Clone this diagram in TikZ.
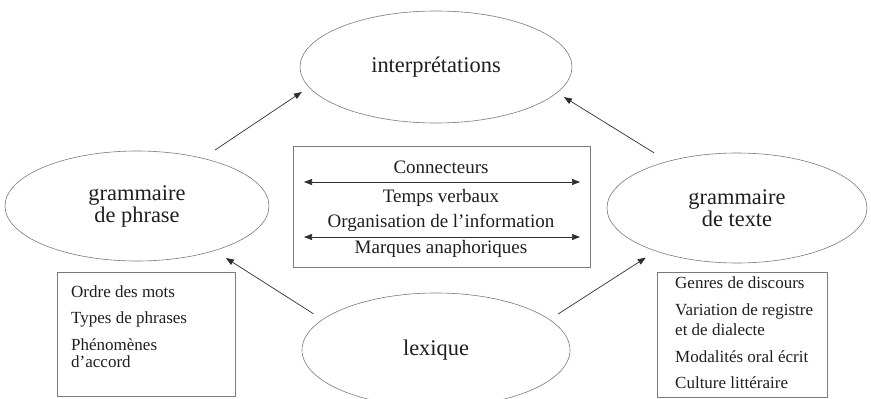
\documentclass[tikz,border=0pt]{standalone}
\usepackage{fontspec}
\setmainfont{Liberation Serif}
\usetikzlibrary{shapes.geometric,arrows.meta}
\definecolor{edge}{HTML}{7A7A7A}
\definecolor{ink}{HTML}{1E1E1E}
\definecolor{arrowc}{HTML}{2E2E2E}
\begin{document}
\begin{tikzpicture}[x=1pt,y=-1pt,
  bubble/.style={ellipse, draw=edge, line width=0.6pt, inner sep=0pt, outer sep=0pt,
    align=center, text=ink, font=\fontsize{22.4}{22}\selectfont},
  panel/.style={rectangle, draw=edge, line width=0.6pt, inner sep=0pt, outer sep=0pt},
  midtext/.style={anchor=base, inner sep=0pt, text=ink, font=\fontsize{19}{22}\selectfont},
  sidetext/.style={anchor=base west, inner sep=0pt, text=ink, font=\fontsize{17}{19}\selectfont},
  link/.style={draw=arrowc, line width=0.7pt, -{Triangle[length=8pt,width=6pt]}},
  twoway/.style={draw=arrowc, line width=0.7pt, {Triangle[length=8pt,width=6pt]}-{Triangle[length=8pt,width=6pt]}}
]
\useasboundingbox (0,0) rectangle (871,399);

% the four concepts
\node[bubble, minimum width=272pt, minimum height=112pt] (int) at (436,67) {interprétations};
\node[bubble, minimum width=264pt, minimum height=110pt] (gp) at (137,206) {grammaire\\de phrase};
\node[bubble, minimum width=260pt, minimum height=110pt] (tx) at (737,208) {grammaire\\de texte};
\node[bubble, minimum width=268pt, minimum height=114pt] (lex) at (436,350) {lexique};

% arrows between concepts
\draw[link, shorten <=14.9pt, shorten >=8.7pt] (gp.36.65) -- (int.189.6);
\draw[link, shorten <=16.4pt, shorten >=8.35pt] (tx.146.6) -- (int.348.07);
\draw[link, shorten <=10.95pt, shorten >=13.8pt] (lex.165.2) -- (gp.330.1);
\draw[link, shorten <=10.4pt, shorten >=12.2pt] (lex.15.08) -- (tx.208.6);

% central panel
\node[panel, minimum width=297pt, minimum height=121pt] (mid) at (441.5,206.5) {};
\node[midtext] (m1) at (441,173) {Connecteurs};
\node[midtext] (m2) at (441,202) {Temps verbaux};
\node[midtext] (m3) at (441,227) {Organisation de l’information};
\node[midtext] (m4) at (441,253) {Marques anaphoriques};
\coordinate (r1w) at (304,182);
\coordinate (r1e) at (580,182);
\coordinate (r2w) at (304,237);
\coordinate (r2e) at (580,237);
\draw[twoway] (r1w) -- (r1e);
\draw[twoway] (r2w) -- (r2e);

% sentence grammar panel
\node[panel, minimum width=178pt, minimum height=124pt] (lbox) at (146,334) {};
\node[sidetext] (l1) at (71,297) {Ordre des mots};
\node[sidetext] (l2) at (71,323) {Types de phrases};
\node[sidetext] (l3) at (71,350) {Phénomènes};
\node[sidetext] (l4) at (71,367) {d’accord};

% text grammar panel
\node[panel, minimum width=170pt, minimum height=125pt] (rbox) at (742,334.5) {};
\node[sidetext] (t1) at (675,288) {Genres de discours};
\node[sidetext] (t2) at (675,315) {Variation de registre};
\node[sidetext] (t3) at (675,335) {et de dialecte};
\node[sidetext] (t4) at (675,362) {Modalités oral écrit};
\node[sidetext] (t5) at (675,388) {Culture littéraire};
\end{tikzpicture}
\end{document}
